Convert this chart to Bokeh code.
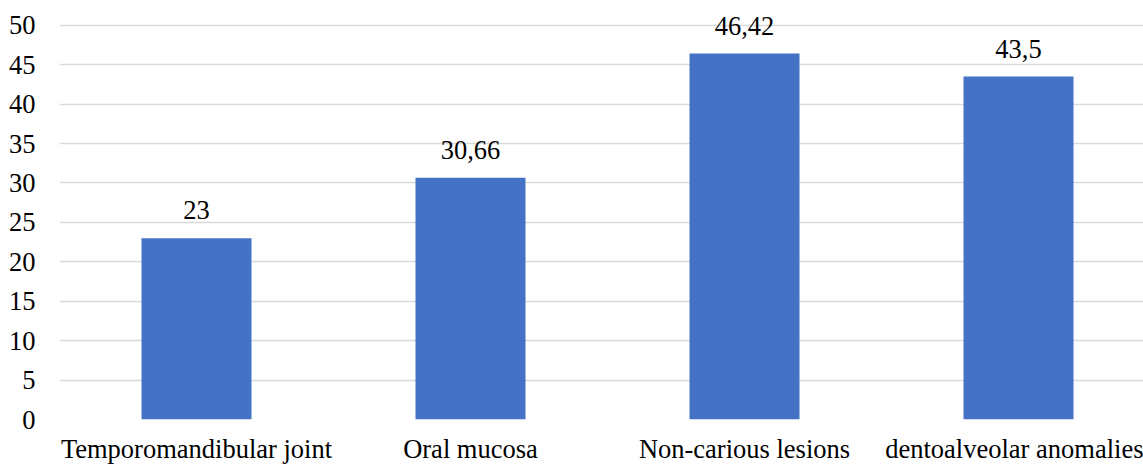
import numpy as np
from bokeh.plotting import figure
from bokeh.models import ColumnDataSource, Range1d, FixedTicker, LabelSet
from bokeh.embed import file_html
from bokeh.resources import INLINE

categories = ["Temporomandibular joint", "Oral mucosa", "Non-carious lesions", "dentoalveolar anomalies"]
values = [23, 30.66, 46.42, 43.5]
value_labels = ["23", "30,66", "46,42", "43,5"]
y_ticks = [0, 5, 10, 15, 20, 25, 30, 35, 40, 45, 50]

xpos = [i + 0.5 for i in range(len(categories))]
src = ColumnDataSource(dict(x=xpos, top=values, lab=value_labels))

FONT = "Liberation Serif"
FS = "26.5px"

# frame: y=0 at 422px, y=50 at 25px -> 7.94 px/unit; extend upward to canvas top
PXU = 397 / 50
p = figure(width=1143, height=466, output_backend="svg", toolbar_location=None,
           x_range=Range1d(0, 1084 / 274), y_range=Range1d(0, 50 + 25 / PXU),
           min_border_left=59, min_border_right=0, min_border_top=0, min_border_bottom=44)
p.outline_line_color = None
p.background_fill_color = "white"
p.border_fill_color = "white"

p.vbar(x="x", top="top", bottom=0, width=110 / 274, source=src,
       fill_color="#4472C4", line_color=None)

labels = LabelSet(x="x", y="top", text="lab", source=src, text_align="center",
                  text_baseline="alphabetic", y_offset=19, text_font=FONT,
                  text_font_size=FS, text_color="#000000")
p.add_layout(labels)

p.xaxis.ticker = FixedTicker(ticks=xpos)
p.xaxis.major_label_overrides = {x: c for x, c in zip(xpos, categories)}
p.yaxis.ticker = FixedTicker(ticks=y_ticks)

for ax in (p.xaxis, p.yaxis):
    ax.axis_line_color = None
    ax.major_tick_line_color = None
    ax.minor_tick_line_color = None
    ax.major_tick_out = 0
    ax.major_tick_in = 0
    ax.major_label_text_font = FONT
    ax.major_label_text_font_size = FS
    ax.major_label_text_color = "#000000"
p.yaxis.major_label_standoff = 24
p.xaxis.major_label_standoff = 14

p.xgrid.grid_line_color = None
p.ygrid.grid_line_color = "#D9D9D9"
p.ygrid.grid_line_width = 1.5

open("out.html", "w").write(file_html(p, INLINE))
